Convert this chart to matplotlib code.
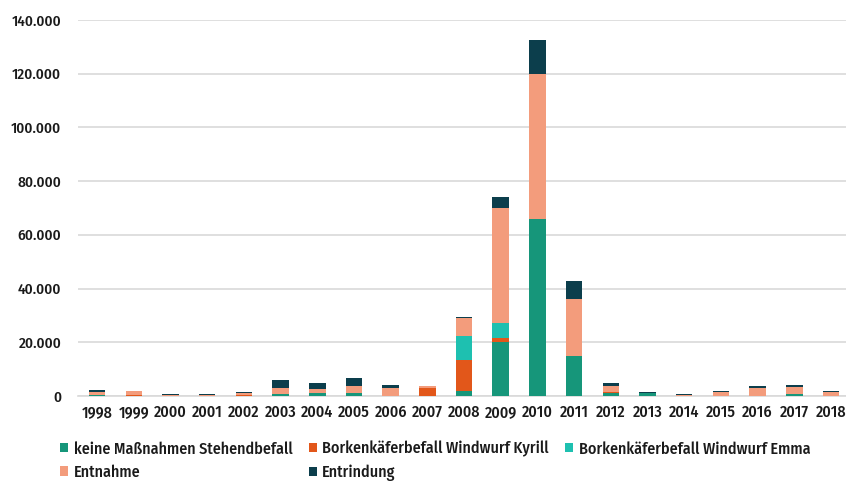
import matplotlib
matplotlib.use("Agg")
import matplotlib.pyplot as plt
import numpy as np
from matplotlib.ticker import FuncFormatter

plt.rcParams['font.family'] = ['Fira Sans Condensed', 'Asap Condensed', 'DejaVu Sans']
plt.rcParams['font.weight'] = 500

years = [str(y) for y in range(1998, 2019)]

keine_massnahmen = [200, 0, 0, 0, 0, 800, 1000, 1300, 0, 0, 2000, 20000, 66000, 15000, 1200, 1300, 0, 0, 0, 600, 0]
kyrill = [200, 200, 0, 0, 300, 0, 0, 0, 0, 2800, 11500, 1500, 0, 0, 200, 0, 0, 0, 0, 0, 0]
emma = [0, 0, 0, 0, 0, 0, 0, 0, 0, 0, 9000, 5500, 0, 0, 0, 0, 0, 0, 0, 0, 0]
entnahme = [1200, 1700, 400, 300, 700, 2000, 1500, 2600, 3000, 800, 6500, 43000, 54000, 21000, 2400, 0, 500, 1600, 3000, 2700, 1500]
entrindung = [500, 100, 400, 400, 400, 3000, 2500, 2700, 1000, 0, 300, 4000, 12500, 7000, 1200, 300, 400, 200, 800, 800, 300]

series = [
    ("keine Maßnahmen Stehendbefall", keine_massnahmen, "#16967a"),
    ("Borkenkäferbefall Windwurf Kyrill", kyrill, "#e2571a"),
    ("Borkenkäferbefall Windwurf Emma", emma, "#1ec0b0"),
    ("Entnahme", entnahme, "#f39c7c"),
    ("Entrindung", entrindung, "#0c3e4c"),
]

fig = plt.figure(figsize=(8.46, 4.83), dpi=100)
ax = fig.add_axes([0.0922, 0.1801, 0.9078, 0.7785])

x = np.arange(len(years))
bottom = np.zeros(len(years))
handles = {}
for label, vals, color in series:
    vals = np.array(vals, dtype=float)
    h = ax.bar(x, vals, width=0.45, bottom=bottom, color=color, label=label, zorder=3)
    handles[label] = h
    bottom += vals

ax.set_ylim(0, 140000)
ax.set_xlim(-0.52, 20.41)
ax.set_yticks(np.arange(0, 140001, 20000))
ax.yaxis.set_major_formatter(FuncFormatter(lambda v, p: f"{int(v):,}".replace(",", ".")))
ax.set_xticks(x)
ax.set_xticklabels(years)
ax.grid(axis='y', color='#d9d9d9', linewidth=1.2, zorder=0)
for s in ['top', 'right', 'left']:
    ax.spines[s].set_visible(False)
ax.spines['bottom'].set_color('#d9d9d9')
ax.spines['bottom'].set_linewidth(1.2)
ax.tick_params(axis='both', length=0, colors='#1a1a1a')
ax.tick_params(axis='x', labelsize=11.5, pad=6)
ax.tick_params(axis='y', labelsize=11, pad=12)

order = ["keine Maßnahmen Stehendbefall", "Entnahme",
         "Borkenkäferbefall Windwurf Kyrill", "Entrindung",
         "Borkenkäferbefall Windwurf Emma"]
leg = fig.legend([handles[k] for k in order], order, ncol=3,
                 loc='lower left', bbox_to_anchor=(60 / 846, 0.004),
                 frameon=False, fontsize=11.6, handlelength=0.5, handleheight=0.5,
                 handletextpad=0.35, columnspacing=1.0, labelspacing=0.45,
                 borderaxespad=0.0, borderpad=0.0)
for t in leg.get_texts():
    t.set_color('#1a1a1a')

fig.savefig("out.png", dpi=100)
